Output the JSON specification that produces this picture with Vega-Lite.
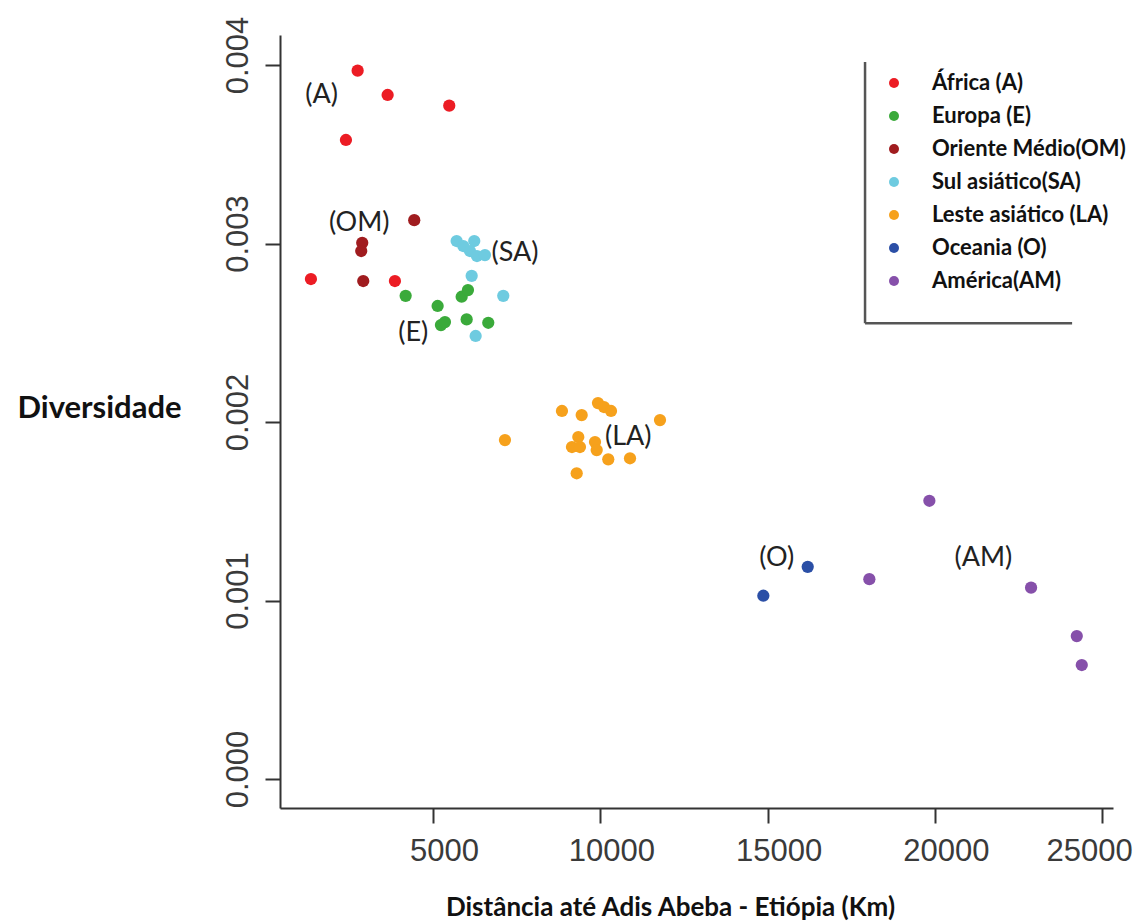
{
  "$schema": "https://vega.github.io/schema/vega-lite/v6.json",
  "width": 833,
  "height": 773,
  "autosize": "none",
  "padding": {"left": 280, "top": 35, "right": 25, "bottom": 115},
  "background": "white",
  "config": {
    "view": {"stroke": null},
    "axis": {
      "domainColor": "#333333",
      "domainWidth": 2,
      "tickColor": "#333333",
      "tickWidth": 2,
      "tickSize": 15,
      "grid": false,
      "labelFont": "Liberation Sans",
      "labelFontSize": 31,
      "labelColor": "#3a3a3a",
      "titleFont": "Lato",
      "titleFontWeight": "bold",
      "titleColor": "#111111"
    }
  },
  "datasets": {
    "pts": [
      {"regiao": "África (A)", "dist": 2750, "div": 0.003968},
      {"regiao": "África (A)", "dist": 3646, "div": 0.003832},
      {"regiao": "África (A)", "dist": 5487, "div": 0.003772},
      {"regiao": "África (A)", "dist": 2400, "div": 0.003580},
      {"regiao": "África (A)", "dist": 1354, "div": 0.002801},
      {"regiao": "África (A)", "dist": 3864, "div": 0.002790},
      {"regiao": "Oriente Médio(OM)", "dist": 4441, "div": 0.003131},
      {"regiao": "Oriente Médio(OM)", "dist": 2887, "div": 0.003004},
      {"regiao": "Oriente Médio(OM)", "dist": 2857, "div": 0.002958},
      {"regiao": "Oriente Médio(OM)", "dist": 2917, "div": 0.002790},
      {"regiao": "Europa  (E)", "dist": 4184, "div": 0.002707},
      {"regiao": "Europa  (E)", "dist": 5140, "div": 0.002650},
      {"regiao": "Europa  (E)", "dist": 5239, "div": 0.002543},
      {"regiao": "Europa  (E)", "dist": 5359, "div": 0.002560},
      {"regiao": "Europa  (E)", "dist": 6007, "div": 0.002575},
      {"regiao": "Europa  (E)", "dist": 6653, "div": 0.002556},
      {"regiao": "Europa  (E)", "dist": 5858, "div": 0.002702},
      {"regiao": "Europa  (E)", "dist": 6046, "div": 0.002739},
      {"regiao": "Sul asiático(SA)", "dist": 5708, "div": 0.003014},
      {"regiao": "Sul asiático(SA)", "dist": 5906, "div": 0.002986},
      {"regiao": "Sul asiático(SA)", "dist": 6234, "div": 0.003014},
      {"regiao": "Sul asiático(SA)", "dist": 6106, "div": 0.002958},
      {"regiao": "Sul asiático(SA)", "dist": 6315, "div": 0.002930},
      {"regiao": "Sul asiático(SA)", "dist": 6554, "div": 0.002935},
      {"regiao": "Sul asiático(SA)", "dist": 6157, "div": 0.002819},
      {"regiao": "Sul asiático(SA)", "dist": 7101, "div": 0.002707},
      {"regiao": "Sul asiático(SA)", "dist": 6276, "div": 0.002482},
      {"regiao": "Leste asiático (LA)", "dist": 7152, "div": 0.001899},
      {"regiao": "Leste asiático (LA)", "dist": 8855, "div": 0.002062},
      {"regiao": "Leste asiático (LA)", "dist": 9444, "div": 0.002039},
      {"regiao": "Leste asiático (LA)", "dist": 9931, "div": 0.002106},
      {"regiao": "Leste asiático (LA)", "dist": 10111, "div": 0.002084},
      {"regiao": "Leste asiático (LA)", "dist": 10320, "div": 0.002062},
      {"regiao": "Leste asiático (LA)", "dist": 11784, "div": 0.002011},
      {"regiao": "Leste asiático (LA)", "dist": 9343, "div": 0.001916},
      {"regiao": "Leste asiático (LA)", "dist": 9154, "div": 0.001860},
      {"regiao": "Leste asiático (LA)", "dist": 9393, "div": 0.001860},
      {"regiao": "Leste asiático (LA)", "dist": 9842, "div": 0.001888},
      {"regiao": "Leste asiático (LA)", "dist": 9893, "div": 0.001843},
      {"regiao": "Leste asiático (LA)", "dist": 10239, "div": 0.001791},
      {"regiao": "Leste asiático (LA)", "dist": 10888, "div": 0.001797},
      {"regiao": "Leste asiático (LA)", "dist": 9295, "div": 0.001713},
      {"regiao": "Oceania (O)", "dist": 14872, "div": 0.001027},
      {"regiao": "Oceania (O)", "dist": 16198, "div": 0.001189},
      {"regiao": "América(AM)", "dist": 18040, "div": 0.001120},
      {"regiao": "América(AM)", "dist": 19833, "div": 0.001559},
      {"regiao": "América(AM)", "dist": 22872, "div": 0.001072},
      {"regiao": "América(AM)", "dist": 24238, "div": 0.000801},
      {"regiao": "América(AM)", "dist": 24387, "div": 0.000639}
    ],
    "rotulos": [
      {"rotulo": "(A)", "dist": 1674, "div": 0.003832},
      {"rotulo": "(OM)", "dist": 2797, "div": 0.003116},
      {"rotulo": "(SA)", "dist": 7451, "div": 0.002945},
      {"rotulo": "(E)", "dist": 4411, "div": 0.002497},
      {"rotulo": "(LA)", "dist": 10837, "div": 0.001918},
      {"rotulo": "(O)", "dist": 15272, "div": 0.001236},
      {"rotulo": "(AM)", "dist": 21447, "div": 0.001236}
    ],
    "moldura": [
      {"dist": 17911, "dist2": 17911, "div": 0.004017, "div2": 0.002554},
      {"dist": 17911, "dist2": 24098, "div": 0.002554, "div2": 0.002554}
    ]
  },
  "layer": [
    {
      "data": {"name": "moldura"},
      "mark": {"type": "rule", "color": "#555555", "strokeWidth": 2.5},
      "encoding": {
        "x": {"field": "dist", "type": "quantitative", "scale": {"domain": [430, 25320], "nice": false, "zero": false}, "title": "Distância até Adis Abeba - Etiópia (Km)"},
        "x2": {"field": "dist2"},
        "y": {"field": "div", "type": "quantitative", "scale": {"domain": [-0.000162, 0.004168], "nice": false, "zero": false}, "title": "Diversidade"},
        "y2": {"field": "div2"}
      }
    },
    {
      "data": {"name": "pts"},
      "mark": {"type": "circle", "size": 150, "opacity": 1},
      "encoding": {
        "x": {
          "field": "dist", "type": "quantitative",
          "scale": {"domain": [430, 25320], "nice": false, "zero": false},
          "title": "Distância até Adis Abeba - Etiópia (Km)",
          "axis": {
            "values": [5000, 10000, 15000, 20000, 25000],
            "format": "d",
            "labelPadding": 37,
            "labelBaseline": "alphabetic",
            "labelOffset": 11,
            "labelFlush": 15,
            "labelFlushOffset": 19,
            "titleFontSize": 26,
            "titleX": 390,
            "titleY": 99,
            "titleAnchor": "start",
            "titleAlign": "center",
            "titleBaseline": "middle"
          }
        },
        "y": {
          "field": "div", "type": "quantitative",
          "scale": {"domain": [-0.000162, 0.004168], "nice": false, "zero": false},
          "title": "Diversidade",
          "axis": {
            "values": [0, 0.001, 0.002, 0.003, 0.004],
            "format": ".3f",
            "labelAngle": -90,
            "labelAlign": "center",
            "labelBaseline": "alphabetic",
            "labelPadding": 18,
            "labelOffset": -10,
            "labelFlush": false,
            "titleAngle": 0,
            "titleFontSize": 31,
            "titleX": -181,
            "titleY": 373,
            "titleAlign": "center",
            "titleBaseline": "middle"
          }
        },
        "color": {
          "field": "regiao", "type": "nominal",
          "scale": {
            "domain": ["África (A)", "Europa  (E)", "Oriente Médio(OM)", "Sul asiático(SA)", "Leste asiático (LA)", "Oceania (O)", "América(AM)"],
            "range": ["#ec1c24", "#3aaa3a", "#a01c1f", "#6ecbe0", "#f6a11c", "#2b4fa6", "#8650aa"]
          },
          "legend": {
            "title": null,
            "orient": "none",
            "legendX": 603,
            "legendY": 37,
            "padding": 0,
            "symbolType": "circle",
            "symbolSize": 100,
            "symbolStrokeWidth": 0,
            "labelFont": "Lato",
            "labelFontWeight": "bold",
            "labelFontSize": 22,
            "labelColor": "#111111",
            "labelOffset": 27,
            "rowPadding": 11,
            "labelLimit": 400
          }
        }
      }
    },
    {
      "data": {"name": "rotulos"},
      "mark": {"type": "text", "font": "Lato", "fontSize": 27, "color": "#222222", "align": "center", "baseline": "middle"},
      "encoding": {
        "x": {"field": "dist", "type": "quantitative", "scale": {"domain": [430, 25320], "nice": false, "zero": false}, "title": "Distância até Adis Abeba - Etiópia (Km)"},
        "y": {"field": "div", "type": "quantitative", "scale": {"domain": [-0.000162, 0.004168], "nice": false, "zero": false}, "title": "Diversidade"},
        "text": {"field": "rotulo"}
      }
    }
  ]
}
